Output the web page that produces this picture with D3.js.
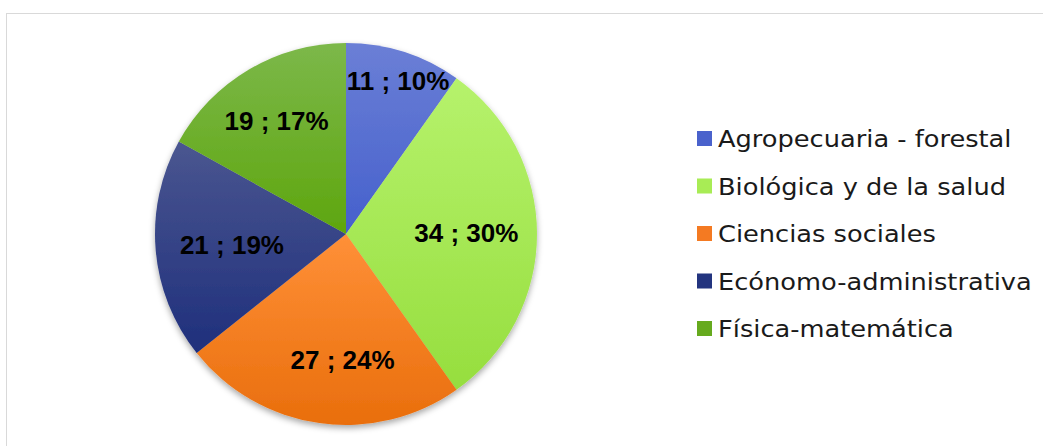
<!DOCTYPE html>
<html><head><meta charset="utf-8">
<script src="https://cdn.jsdelivr.net/npm/d3@7/dist/d3.min.js"></script>
<style>html,body{margin:0;padding:0;background:#fff;}svg{display:block;}</style>
</head><body>
<svg id="chart" width="1043" height="446"></svg>
<script>
const categories = ["Agropecuaria - forestal","Biológica y de la salud","Ciencias sociales","Ecónomo-administrativa","Física-matemática"];
const values = [11, 34, 27, 21, 19];
const percentLabels = ["10%","30%","24%","19%","17%"];
const colorTop = ["#6b7fd6","#b6f26c","#ff9038","#4a5690","#7cb84a"];
const colorBottom = ["#4560cc","#96de3e","#e96e0c","#1f2f7c","#5ea60e"];
const legendColors = ["#4a62cc","#a8ec55","#f47a22","#23347f","#66aa1e"];

const svg = d3.select("#chart");
const W = 1043, H = 446;
svg.append("rect").attr("x",6.5).attr("y",13.5).attr("width",W+10).attr("height",H+10)
  .attr("fill","#fff").attr("stroke","#d9d9d9").attr("stroke-width",1);

const defs = svg.append("defs");
const f = defs.append("filter").attr("id","shadow").attr("x","-20%").attr("y","-20%").attr("width","140%").attr("height","140%");
f.append("feDropShadow").attr("dx",0).attr("dy",3).attr("stdDeviation",3).attr("flood-color","#000").attr("flood-opacity",0.35);
categories.forEach((c,i)=>{
  const g = defs.append("linearGradient").attr("id","grad"+i).attr("x1",0).attr("y1",0).attr("x2",0).attr("y2",1);
  g.append("stop").attr("offset","0%").attr("stop-color",colorTop[i]);
  g.append("stop").attr("offset","100%").attr("stop-color",colorBottom[i]);
});

const cx = 346, cy = 234, R = 191;
const pie = d3.pie().sort(null).value(d=>d)(values);
const arc = d3.arc().innerRadius(0).outerRadius(R);
const gPie = svg.append("g").attr("transform",`translate(${cx},${cy})`);
gPie.append("g").attr("filter","url(#shadow)").selectAll("path").data(pie).join("path")
  .attr("d",arc).attr("fill",(d,i)=>`url(#grad${i})`);

// label placement (radius fraction, angular tweak in degrees)
const labelPlace = [[0.85,1],[0.63,-0.5],[0.66,-6.5],[0.6,-0.7],[0.695,-1]];
gPie.selectAll("text.lab").data(pie).join("text").attr("class","lab")
  .attr("x",(d,i)=>{const a=(d.startAngle+d.endAngle)/2+labelPlace[i][1]*Math.PI/180;return Math.sin(a)*R*labelPlace[i][0];})
  .attr("y",(d,i)=>{const a=(d.startAngle+d.endAngle)/2+labelPlace[i][1]*Math.PI/180;return -Math.cos(a)*R*labelPlace[i][0];})
  .attr("dy","0.36em").attr("text-anchor","middle")
  .attr("font-family","'Liberation Sans', Arial, sans-serif").attr("font-weight","bold").attr("font-size",26)
  .attr("fill","#000").text((d,i)=>`${values[i]} ; ${percentLabels[i]}`);

// legend
const leg = svg.append("g");
const ly = d3.scaleBand().domain(categories).range([131,131+47.5*5]);
const items = leg.selectAll("g").data(categories).join("g").attr("transform",d=>`translate(697,${ly(d)})`);
items.append("rect").attr("width",15).attr("height",15).attr("fill",(d,i)=>legendColors[i]);
const texts = items.append("text").attr("x",21).attr("y",16).attr("font-family","'DejaVu Sans', sans-serif")
  .attr("font-size",23).attr("fill","#1a1a1a").text(d=>d);
// stretch to match wide geometric face
const targetW = 314;
const wMeasured = texts.filter(d=>d==="Ecónomo-administrativa").node().getComputedTextLength();
const sx = targetW / wMeasured;
texts.attr("transform",`translate(21,0) scale(${sx},1) translate(-21,0)`);
</script>
</body></html>
